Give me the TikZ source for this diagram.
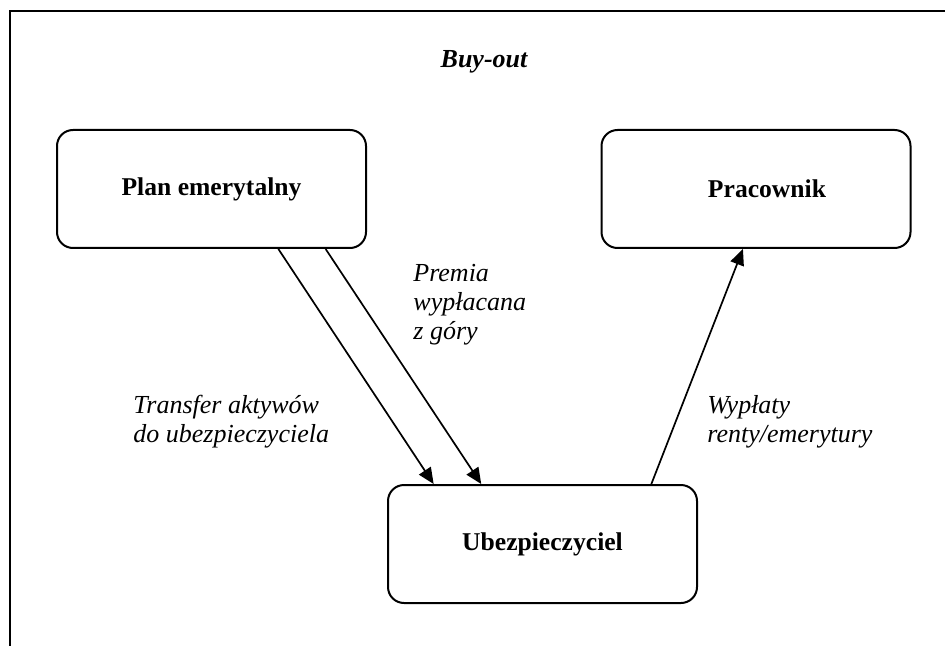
\documentclass[tikz,border=0pt]{standalone}
\usepackage{fontspec}
\setmainfont{Liberation Serif}
\usetikzlibrary{calc,arrows.meta}

\tikzset{
    box/.style={draw, line width=1pt, rounded corners=8pt, minimum width=154.5pt, minimum height=59pt,
        font=\fontsize{12.8}{15}\selectfont\bfseries},
    lbl/.style={anchor=north west, inner sep=0pt, align=left, font=\fontsize{13}{14.5}\selectfont\itshape},
    flow/.style={line width=0.85pt, -{Triangle[length=8pt,width=7pt]}}
}

\begin{document}
\begin{tikzpicture}[x=0.5pt, y=-0.5pt]
    \useasboundingbox (0,0) rectangle (945,646);

    % Frame (only top and left edge show)
    \draw[line width=1.4pt] (10,660) -- (10,11) -- (960,11);

    \node[anchor=base, font=\fontsize{13}{15}\selectfont\bfseries\itshape] (title) at (484,68) {Buy-out};

    % Boxes
    \node[box] (plan) at (211.5,189) {Plan emerytalny};
    \node[box] (prac) at (756,189) {\hspace*{11pt}Pracownik};
    \node[box] (ubez) at (542.5,544) {Ubezpieczyciel};

    % Flows
    \draw[flow] ($(plan.south west)!0.715!(plan.south east)$) -- ($(ubez.north west)!0.15!(ubez.north east)$);
    \draw[flow] ($(plan.south west)!0.867!(plan.south east)$) -- ($(ubez.north west)!0.303!(ubez.north east)$);
    \draw[flow] ($(ubez.north west)!0.85!(ubez.north east)$) -- ($(prac.south west)!0.458!(prac.south east)$);

    \node[lbl] (transfer) at (133,395) {Transfer aktywów\\do ubezpieczyciela};
    \node[lbl] (premia) at (413,264) {Premia\\wypłacana\\z góry};
    \node[lbl] (wyplaty) at (707,395) {Wypłaty\\renty/emerytury};
\end{tikzpicture}
\end{document}
